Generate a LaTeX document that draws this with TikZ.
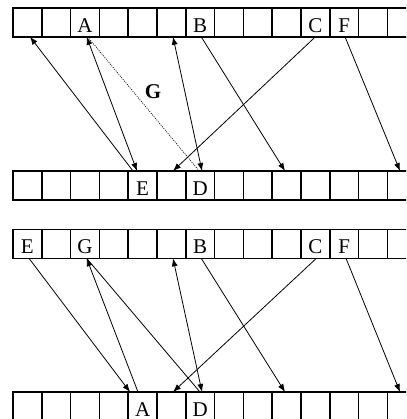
\documentclass[tikz,border=0pt]{standalone}
\usepackage{fontspec}
\setmainfont{Liberation Serif}
\usetikzlibrary{arrows.meta,calc}
\begin{document}
\begin{tikzpicture}[x=1pt,y=-1pt,
  cell/.style={draw, line width=1.5pt, rectangle, minimum width=28.8pt, minimum height=28.8pt,
    inner sep=0pt, outer sep=0pt},
  celltext/.style={inner sep=0pt, outer sep=0pt, text height=24.3pt, text depth=4.5pt,
    font=\fontsize{21}{25}\selectfont},
  ptr/.style={line width=0.8pt, -{Latex[length=8pt,width=6pt]}},
  bptr/.style={line width=0.8pt, {Latex[length=8pt,width=6pt]}-{Latex[length=8pt,width=6pt]}},
  rptr/.style={line width=0.8pt, {Latex[length=8pt,width=6pt]}-},
  plain/.style={line width=0.8pt},
  dotline/.style={line width=0.7pt, dash pattern=on 1pt off 1.2pt}]
\useasboundingbox (0,0) rectangle (406,419);
\clip (0,0) rectangle (406,419);
\foreach \rw/\tp in {1/8,2/171,3/229.5,4/392}{
  \foreach \ci in {0,...,13}{
    \node[cell] (r\rw c\ci) at ({13+28.8*(\ci+0.5)},{\tp+14.4}) {};
  }
}
% labels
\node[celltext] (t1A) at (r1c2.center) {A};
\node[celltext] (t1B) at (r1c6.center) {B};
\node[celltext] (t1C) at (r1c10.center) {C};
\node[celltext] (t1F) at (r1c11.center) {F};
\node[celltext] (t2E) at (r2c4.center) {E};
\node[celltext] (t2D) at (r2c6.center) {D};
\node[celltext] (t3E) at (r3c0.center) {E};
\node[celltext] (t3G) at (r3c2.center) {G};
\node[celltext] (t3B) at (r3c6.center) {B};
\node[celltext] (t3C) at (r3c10.center) {C};
\node[celltext] (t3F) at (r3c11.center) {F};
\node[celltext] (t4A) at (r4c4.center) {A};
\node[celltext] (t4D) at (r4c6.center) {D};
\node[font=\fontsize{21}{25}\selectfont\bfseries, inner sep=0pt] (glabel) at (153,92) {G};
% top pointers
\draw[ptr] ($(r2c4.north)+(-9.6,0)$) -- ($(r1c0.south)+(2.6,0)$);
\draw[bptr] ($(r1c2.south)+(1.6,0)$) -- ($(r2c4.north)+(-5.6,0)$);
\draw[dotline] ($(r1c2.south)+(2.6,0)$) -- ($(r2c6.north)+(-1,0)$);
\draw[bptr] ($(r1c5.south)+(1.6,0)$) -- ($(r2c6.north)+(1.8,0)$);
\draw[ptr] ($(r1c10.south)+(0,0)$) -- ($(r2c5.north)+(1.6,0)$);
\draw[ptr] ($(r1c6.south)+(1,0)$) -- ($(r2c9.north)+(-1.6,0)$);
\draw[ptr] ($(r1c11.south)+(0.8,0)$) -- ($(r2c13.north)+(-1.8,0)$);
% bottom pointers
\draw[ptr] ($(r3c0.south)+(1.6,0)$) -- ($(r4c4.north)+(-12.6,0)$);
\draw[rptr] ($(r3c2.south)+(1.6,0)$) -- ($(r4c4.north)+(-4.6,0)$);
\draw[plain] ($(r3c2.south)+(1.6,0)$) -- ($(r4c6.north)+(-0.2,0)$);
\draw[bptr] ($(r3c5.south)+(1.6,0)$) -- ($(r4c6.north)+(1.8,0)$);
\draw[ptr] ($(r3c10.south)+(1,0)$) -- ($(r4c5.north)+(1.6,0)$);
\draw[ptr] ($(r3c6.south)+(1,0)$) -- ($(r4c9.north)+(-1.6,0)$);
\draw[ptr] ($(r3c11.south)+(1.8,0)$) -- ($(r4c13.north)+(-1.8,0)$);
\end{tikzpicture}
\end{document}
